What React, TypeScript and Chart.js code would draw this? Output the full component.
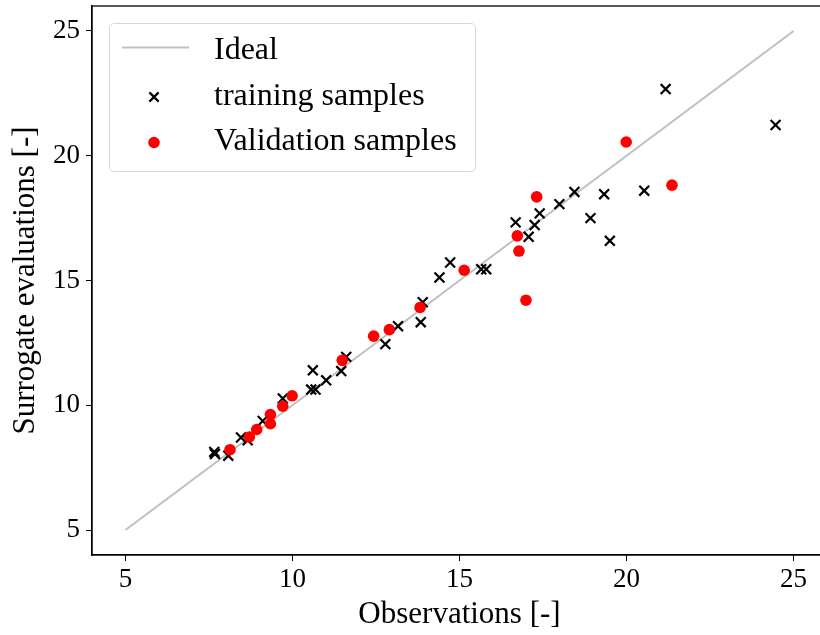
import React, { useEffect, useRef } from "react";
import { Chart, registerables } from "chart.js";

Chart.register(...registerables);

const trainObs = [7.66, 7.68, 8.08, 8.46, 8.66, 9.11, 9.71, 10.56, 10.69, 10.61, 11.01, 11.46, 11.61, 12.78, 13.16, 13.84, 13.9, 14.4, 14.72, 15.65, 15.8, 16.68, 17.07, 17.25, 17.4, 17.99, 18.44, 18.92, 19.33, 19.5, 20.53, 21.17, 24.46];
const trainSur = [8.13, 8.05, 7.98, 8.71, 8.6, 9.37, 10.27, 10.63, 10.63, 11.4, 11.0, 11.37, 11.94, 12.45, 13.17, 13.33, 14.13, 15.12, 15.72, 15.45, 15.45, 17.33, 16.75, 17.22, 17.69, 18.06, 18.55, 17.5, 18.46, 16.59, 18.6, 22.67, 21.23];

const valObs = [8.13, 8.71, 8.93, 9.34, 9.34, 9.71, 9.99, 11.49, 12.43, 12.9, 13.82, 15.14, 16.73, 16.78, 16.99, 17.31, 19.99, 21.36];
const valSur = [8.22, 8.73, 9.03, 9.26, 9.63, 9.96, 10.38, 11.8, 12.77, 13.03, 13.92, 15.41, 16.79, 16.18, 14.21, 18.35, 20.55, 18.82];

const idealX = [5, 25];
const idealY = [5, 25];

const tickValues = [5, 10, 15, 20, 25];
const legendLabels = ["Ideal", "training samples", "Validation samples"];

const FONT = "'Liberation Serif', 'Times New Roman', serif";

const frameAndLegend = {
  id: "frameAndLegend",
  afterDraw(chart: any) {
    const ctx = chart.ctx;
    const a = chart.chartArea;
    ctx.save();
    // frame
    ctx.strokeStyle = "#000";
    ctx.lineWidth = 1.3;
    ctx.strokeRect(a.left, a.top, a.right - a.left, a.bottom - a.top);

    // legend box
    const bx = 109.5, by = 23.5, bw = 366, bh = 148, r = 5;
    ctx.beginPath();
    ctx.moveTo(bx + r, by);
    ctx.lineTo(bx + bw - r, by);
    ctx.quadraticCurveTo(bx + bw, by, bx + bw, by + r);
    ctx.lineTo(bx + bw, by + bh - r);
    ctx.quadraticCurveTo(bx + bw, by + bh, bx + bw - r, by + bh);
    ctx.lineTo(bx + r, by + bh);
    ctx.quadraticCurveTo(bx, by + bh, bx, by + bh - r);
    ctx.lineTo(bx, by + r);
    ctx.quadraticCurveTo(bx, by, bx + r, by);
    ctx.closePath();
    ctx.fillStyle = "rgba(255,255,255,0.8)";
    ctx.fill();
    ctx.strokeStyle = "#d6d6d6";
    ctx.lineWidth = 1;
    ctx.stroke();

    // Ideal line handle
    ctx.strokeStyle = "#bfbfbf";
    ctx.lineWidth = 2;
    ctx.beginPath();
    ctx.moveTo(122, 47.5);
    ctx.lineTo(189, 47.5);
    ctx.stroke();

    // cross handle
    ctx.strokeStyle = "#000";
    ctx.lineWidth = 2.2;
    const cx = 154, cy = 97, d = 4.6;
    ctx.beginPath();
    ctx.moveTo(cx - d, cy - d);
    ctx.lineTo(cx + d, cy + d);
    ctx.moveTo(cx - d, cy + d);
    ctx.lineTo(cx + d, cy - d);
    ctx.stroke();

    // red dot handle
    ctx.fillStyle = "#ff0000";
    ctx.beginPath();
    ctx.arc(154, 142.5, 5.8, 0, Math.PI * 2);
    ctx.fill();

    ctx.fillStyle = "#000";
    ctx.font = `32px ${FONT}`;
    ctx.textAlign = "left";
    ctx.textBaseline = "alphabetic";
    ctx.fillText(legendLabels[0], 214, 59);
    ctx.fillText(legendLabels[1], 214, 105);
    ctx.fillText(legendLabels[2], 214, 150);
    ctx.restore();
  },
};

const zeroPad = (s: any) => {
  s.paddingTop = 0;
  s.paddingBottom = 0;
  s.paddingLeft = 0;
  s.paddingRight = 0;
};

export default function App() {
  const ref = useRef<HTMLCanvasElement | null>(null);

  useEffect(() => {
    if (!ref.current) return;
    Chart.defaults.font.family = FONT;
    const chart = new Chart(ref.current, {
      type: "scatter",
      data: {
        datasets: [
          {
            label: legendLabels[2],
            data: valObs.map((x, i) => ({ x, y: valSur[i] })),
            pointStyle: "circle",
            pointRadius: 5.8,
            backgroundColor: "#ff0000",
            borderColor: "#ff0000",
            borderWidth: 0,
            order: 0,
          },
          {
            label: legendLabels[1],
            data: trainObs.map((x, i) => ({ x, y: trainSur[i] })),
            pointStyle: "crossRot",
            pointRadius: 7,
            borderColor: "#000",
            backgroundColor: "#000",
            borderWidth: 2.2,
            order: 1,
          },
          {
            type: "line",
            label: legendLabels[0],
            data: idealX.map((x, i) => ({ x, y: idealY[i] })),
            showLine: true,
            pointRadius: 0,
            borderColor: "#bfbfbf",
            borderWidth: 2,
            fill: false,
            order: 2,
          } as any,
        ],
      },
      options: {
        responsive: false,
        animation: false,
        events: [],
        layout: { autoPadding: false, padding: { top: 6, right: 3, left: 0, bottom: 0 } },
        plugins: { legend: { display: false }, tooltip: { enabled: false } },
        scales: {
          x: {
            type: "linear",
            min: 4,
            max: 26,
            afterBuildTicks: (s: any) => {
              s.ticks = tickValues.map((v) => ({ value: v }));
            },
            afterFit: (s: any) => {
              s.height = 80;
              zeroPad(s);
            },
            grid: { display: true, drawOnChartArea: false, drawTicks: true, tickLength: 6, color: "#000", tickWidth: 1 },
            border: { display: true, color: "#000", width: 1.3 },
            ticks: { color: "#000", font: { size: 27, family: FONT }, padding: 3, maxRotation: 0, callback: (v: any) => String(v) },
            title: { display: true, text: "Observations [-]", color: "#000", font: { size: 31, family: FONT }, padding: { top: 0, bottom: 2 } },
          },
          y: {
            type: "linear",
            min: 4,
            max: 26,
            afterBuildTicks: (s: any) => {
              s.ticks = tickValues.map((v) => ({ value: v }));
            },
            afterFit: (s: any) => {
              s.width = 92;
              zeroPad(s);
            },
            grid: { display: true, drawOnChartArea: false, drawTicks: true, tickLength: 6, color: "#000", tickWidth: 1 },
            border: { display: true, color: "#000", width: 1.3 },
            ticks: { color: "#000", font: { size: 27, family: FONT }, padding: 6, callback: (v: any) => String(v) },
            title: { display: true, text: "Surrogate evaluations [-]", color: "#000", font: { size: 31, family: FONT }, padding: { top: 7, bottom: 0 } },
          },
        },
      },
      plugins: [frameAndLegend],
    });
    return () => chart.destroy();
  }, []);

  return (
    <div style={{ position: "fixed", left: 0, top: 0, width: 820, height: 635, overflow: "hidden", background: "#fff" }}>
      <div style={{ position: "relative", width: 830, height: 635 }}>
        <canvas ref={ref} width={830} height={635} style={{ display: "block", width: 830, height: 635 }} />
      </div>
    </div>
  );
}
